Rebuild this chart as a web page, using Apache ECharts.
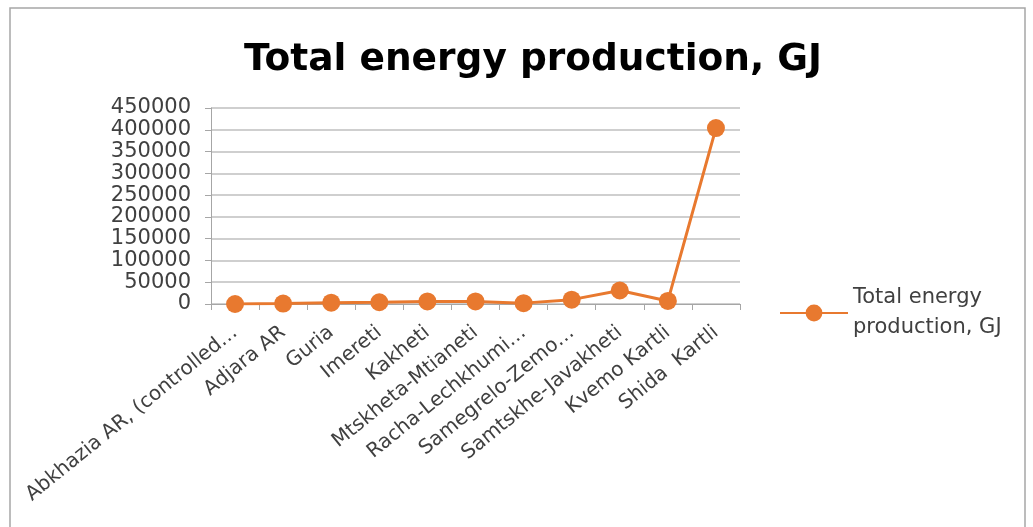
<!DOCTYPE html>
<html>
<head>
<meta charset="utf-8">
<script src="https://cdn.jsdelivr.net/npm/echarts@6/dist/echarts.min.js"></script>
<style>
  html, body { margin: 0; padding: 0; background: #fff; }
  #main { width: 1033px; height: 527px; }
</style>
</head>
<body>
<div id="main"></div>
<script>
const regions = ['Abkhazia AR, (controlled…', 'Adjara AR', 'Guria', 'Imereti', 'Kakheti',
  'Mtskheta-Mtianeti', 'Racha-Lechkhumi…', 'Samegrelo-Zemo…', 'Samtskhe-Javakheti',
  'Kvemo Kartli', 'Shida  Kartli']
const production = [0, 1000, 3000, 4000, 6000, 6000, 2000, 10000, 31000, 7000, 404000]
const seriesName = 'Total energy production, GJ'

const myChart = echarts.init(document.querySelector('#main'))
const font = "'DejaVu Sans', 'Liberation Sans', sans-serif"

const option = {
  animation: false,
  title: {
    text: 'Total energy production, GJ',
    left: 528,
    textAlign: 'center',
    top: 36,
    textStyle: { fontFamily: font, fontSize: 37.5, fontWeight: 'bold', color: '#000' }
  },
  graphic: [{
    type: 'rect',
    shape: { x: 10, y: 8, width: 1015, height: 530 },
    style: { fill: 'none', stroke: '#a6a6a6', lineWidth: 1.5 }
  }],
  legend: {
    left: 774,
    top: 278,
    orient: 'vertical',
    itemWidth: 68,
    itemHeight: 21,
    itemGap: 6,
    formatter: () => 'Total energy\nproduction, GJ',
    textStyle: { fontFamily: font, fontSize: 21, color: '#404040', lineHeight: 30 }
  },
  grid: { left: 211, right: 293, top: 108, bottom: 223 },
  xAxis: {
    type: 'category',
    data: regions,
    axisLine: { lineStyle: { color: '#a6a6a6', width: 1 } },
    axisTick: { show: true, alignWithLabel: false, length: 6, lineStyle: { color: '#a6a6a6' } },
    axisLabel: {
      rotate: 39, interval: 0, margin: 26,
      fontFamily: font, fontSize: 20, color: '#404040'
    }
  },
  yAxis: {
    type: 'value',
    min: 0,
    max: 450000,
    interval: 50000,
    axisLine: { show: true, lineStyle: { color: '#a6a6a6' } },
    axisTick: { show: true, length: 6, lineStyle: { color: '#a6a6a6' } },
    splitLine: { lineStyle: { color: '#bfbfbf', width: 1.5 } },
    axisLabel: {
      fontFamily: font, fontSize: 21, color: '#404040', margin: 20,
      showMinLabel: true, showMaxLabel: true, hideOverlap: false,
      formatter: v => String(v)
    }
  },
  series: [{
    name: seriesName,
    type: 'line',
    data: production,
    symbol: 'circle',
    symbolSize: 18,
    itemStyle: { color: '#E8792F' },
    lineStyle: { color: '#E8792F', width: 3 }
  }]
}
option && myChart.setOption(option)
</script>
</body>
</html>
